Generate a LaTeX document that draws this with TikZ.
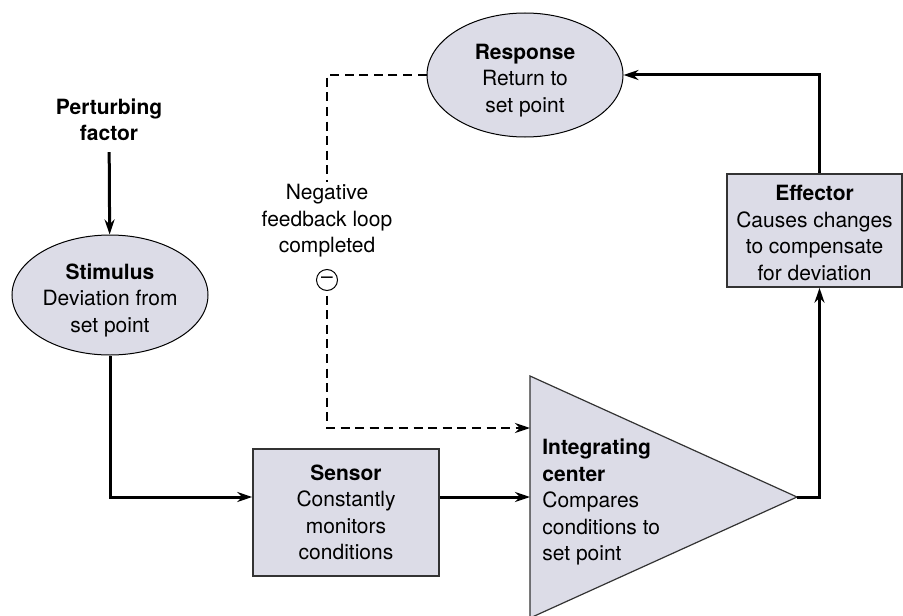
\documentclass[tikz,border=0pt]{standalone}
\usepackage{fontspec}
\setmainfont{TeX Gyre Heros}
\usetikzlibrary{arrows.meta,positioning}
\usetikzlibrary{shapes.geometric}
\definecolor{boxfill}{RGB}{220,220,231}

\begin{document}
\begin{tikzpicture}[
x=0.5pt, y=-0.5pt,
>={Stealth[length=7.5pt,width=5pt]},
every node/.style={
		font=\fontsize{10.5}{13.25}\selectfont,
		align=center,
		},
head/.style={
		font=\fontsize{10.5}{13.25}\selectfont\bfseries,
		},
oval/.style={
		ellipse,
		draw=black,
		line width=0.5pt,
		fill=boxfill,
		inner sep=0pt,
		},
box/.style={
		draw=black!80,
		line width=0.8pt,
		fill=boxfill,
		inner sep=0pt,
		},
flow/.style={line width=1.5pt},
feedback/.style={line width=1.4pt, dash pattern=on 4.5pt off 2.8pt},
]

\def \lift {\rule{0pt}{12.8pt}} % pushes oval text down a little

\useasboundingbox (0,0) rectangle (903,615);

% integrating center
\coordinate (itop) at (530,376);
\coordinate (ibot) at (530,618);
\coordinate (iapex) at (797,497);
\coordinate (imid) at (530,497);
\coordinate (idash) at (530,428);
\draw[box, line width=0.6pt] (itop) -- (iapex) -- (ibot) -- cycle;
\node[anchor=west, align=left, inner sep=0pt] (integ) at (542,502)
  {\textbf{Integrating}\\\textbf{center}\\Compares\\conditions to\\set point};

\node[head] (perturb) at (109,120) {Perturbing\\factor};
\node[oval, minimum width=98pt, minimum height=60pt] (stimulus) at (110,295)
  {\lift\textbf{Stimulus}\\Deviation from\\set point};
\node[box, minimum width=93pt, minimum height=63.5pt] (sensor) at (346,512.5)
  {\textbf{Sensor}\\Constantly\\monitors\\conditions};
\node[box, minimum width=87.5pt, minimum height=56.5pt] (effector) at (814.5,230.5)
  {\rule{0pt}{10pt}\textbf{Effector}\\Causes changes\\to compensate\\for deviation};
\node[oval, minimum width=98pt, minimum height=62pt] (response) at (525,75)
  {\lift\textbf{Response}\\Return to\\set point};

\node[inner sep=1pt] (negtxt) at (327,221) {Negative\\feedback loop\\completed};
\node[circle, draw, line width=0.5pt, minimum size=10.5pt, inner sep=0pt, outer sep=2.5pt]
  (minus) at (327,280) {--};

\draw[flow, ->, shorten <=2pt] (perturb) -- (stimulus);
\draw[flow, ->] (stimulus) |- (sensor.west |- imid);
\draw[flow, ->] (sensor.east |- imid) -- (imid);
\draw[flow, ->] (iapex) -| ([xshift=2.5pt]effector.south);
\draw[flow, ->] ([xshift=2.5pt]effector.north) |- (response);

\draw[feedback] (response) -| (negtxt);
\draw[feedback, ->] (minus) |- (idash);

\end{tikzpicture}
\end{document}
